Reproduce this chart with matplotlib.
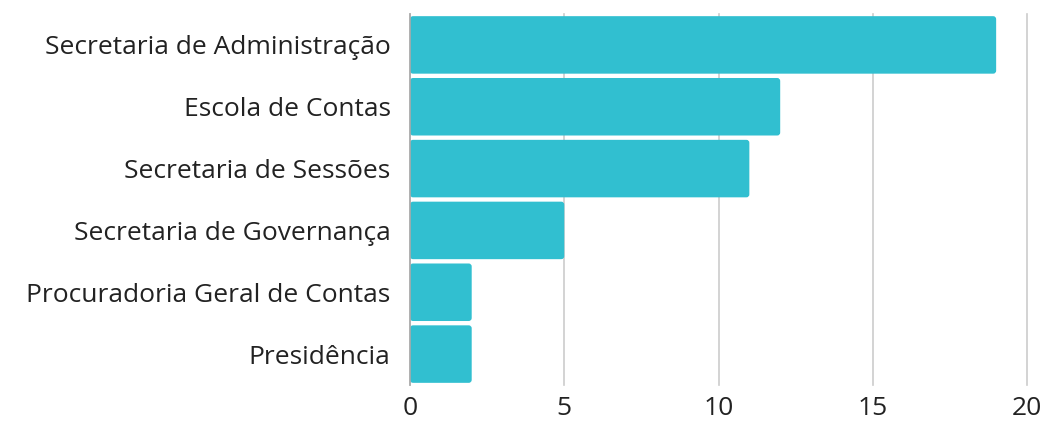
import matplotlib
matplotlib.use("Agg")
import matplotlib.pyplot as plt
from matplotlib.patches import FancyBboxPatch

categories = ["Secretaria de Administração", "Escola de Contas", "Secretaria de Sessões",
              "Secretaria de Governança", "Procuradoria Geral de Contas", "Presidência"]
values = [19, 12, 11, 5, 2, 2]
xticks = [0, 5, 10, 15, 20]

plt.rcParams['font.family'] = ['Open Sans', 'DejaVu Sans']
fig = plt.figure(figsize=(10.43, 4.22), dpi=100)
ax = fig.add_axes([410/1043, 1-385/422, 617/1043, 371/422])

color = "#31BFD0"
ypos = list(range(len(categories)))
bars = ax.barh(ypos, values, height=0.93, color=color)
ax_w_px = 617; ax_h_px = 371
xpp = 20/ax_w_px
ypp = 6/ax_h_px
for b in bars:
    x0, y0 = b.get_x(), b.get_y()
    w, h = b.get_width(), b.get_height()
    b.set_visible(False)
    p = FancyBboxPatch((x0, y0), w, h, boxstyle="round,pad=0,rounding_size=%f" % (3*xpp),
                       mutation_aspect=ypp/xpp, facecolor=color, edgecolor='none', zorder=3)
    ax.add_patch(p)

ax.set_xlim(0, 20)
ax.set_ylim(len(categories)-0.5, -0.5)
ax.set_xticks(xticks)
ax.set_xticklabels([str(t) for t in xticks])
ax.set_yticks(ypos)
ax.set_yticklabels(categories)
ax.tick_params(axis='both', length=0, labelsize=19, colors='#222222')
ax.tick_params(axis='y', pad=14)
ax.tick_params(axis='x', pad=8)
ax.xaxis.grid(True, color='#cccccc', linewidth=1.2)
for gl in ax.get_xgridlines():
    gl.set_clip_on(False)
ax.set_axisbelow(True)
for s in ['top', 'right', 'bottom']:
    ax.spines[s].set_visible(False)
ax.spines['left'].set_color('#aaaaaa')
ax.spines['left'].set_linewidth(1.2)
ax.spines['left'].set_zorder(4)

fig.savefig("out.png", dpi=100)
